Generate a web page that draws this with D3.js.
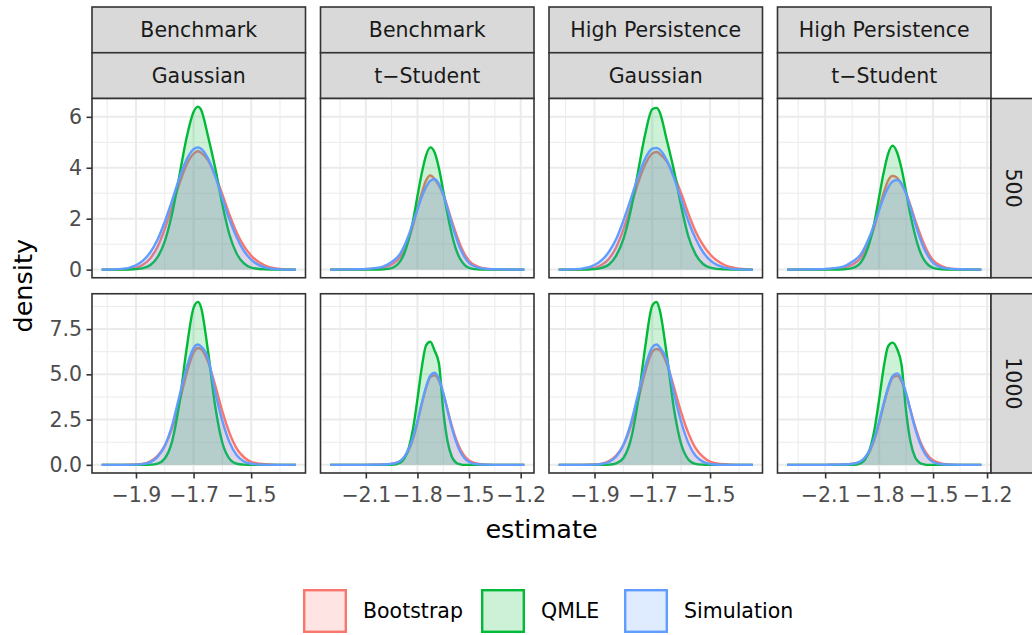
<html>
<head>
  <meta charset="utf-8">
  <script src="https://d3js.org/d3.v7.min.js"></script>
  <style>
    body { margin: 0; background: white; }
    text { font-family: "DejaVu Sans", sans-serif; }
  </style>
</head>
<body>
  <svg id="chart" width="1032" height="635"></svg>
  <script>
    // facet labels
    const models = ["Benchmark", "Benchmark", "High Persistence", "High Persistence"];
    const dists = ["Gaussian", "t\u2212Student", "Gaussian", "t\u2212Student"];
    const sizes = ["500", "1000"];
    const methods = ["Bootstrap", "QMLE", "Simulation"];

    // axis ticks
    const gaussTicks = [-1.9, -1.7, -1.5];
    const studTicks = [-2.1, -1.8, -1.5, -1.2];
    const ticks500 = [0, 2, 4, 6];
    const labels500 = ["0", "2", "4", "6"];
    const ticks1000 = [0, 2.5, 5, 7.5];
    const labels1000 = ["0.0", "2.5", "5.0", "7.5"];

    // evaluation grids (estimate values) per column
    const gridGaussA = [-2.019, -1.95, -1.90, -1.875, -1.85, -1.825, -1.80, -1.775, -1.75, -1.725, -1.70, -1.685, -1.675, -1.65, -1.625, -1.60, -1.575, -1.55, -1.525, -1.50, -1.45, -1.40, -1.345];
    const gridGaussB = [-2.024, -1.95, -1.90, -1.875, -1.85, -1.825, -1.80, -1.775, -1.75, -1.725, -1.70, -1.685, -1.675, -1.65, -1.625, -1.60, -1.575, -1.55, -1.525, -1.50, -1.45, -1.40, -1.352];
    const gridStudA = [-2.307, -2.2, -2.1, -2.05, -2.0, -1.95, -1.9, -1.875, -1.85, -1.825, -1.80, -1.775, -1.75, -1.725, -1.70, -1.675, -1.65, -1.625, -1.60, -1.575, -1.55, -1.525, -1.50, -1.45, -1.40, -1.30, -1.179];
    const gridStudB = [-2.311, -2.2, -2.1, -2.05, -2.0, -1.95, -1.9, -1.875, -1.85, -1.825, -1.80, -1.775, -1.75, -1.725, -1.70, -1.675, -1.65, -1.625, -1.60, -1.575, -1.55, -1.525, -1.50, -1.45, -1.40, -1.30, -1.232];

    // densities: Benchmark / Gaussian
    const bg500Boot = [0, 0.01, 0.08, 0.2, 0.45, 0.9, 1.6, 2.45, 3.35, 4.1, 4.55, 4.65, 4.6, 4.3, 3.7, 2.95, 2.15, 1.45, 0.92, 0.55, 0.15, 0.03, 0];
    const bg500Qmle = [0, 0, 0.02, 0.06, 0.18, 0.49, 1.11, 2.17, 3.64, 5.14, 6.19, 6.4, 6.3, 5.25, 4.0, 2.56, 1.36, 0.62, 0.24, 0.08, 0.01, 0, 0];
    const bg500Sim = [0, 0.03, 0.17, 0.36, 0.68, 1.18, 1.88, 2.7, 3.57, 4.3, 4.73, 4.8, 4.76, 4.37, 3.67, 2.79, 1.95, 1.26, 0.73, 0.39, 0.08, 0.01, 0];
    const bg1000Boot = [0, 0, 0.02, 0.06, 0.2, 0.5, 1.05, 2.0, 3.4, 5.0, 6.2, 6.45, 6.4, 5.7, 4.4, 2.95, 1.75, 0.9, 0.42, 0.17, 0.03, 0, 0];
    const bg1000Qmle = [0, 0, 0, 0, 0.01, 0.07, 0.35, 1.27, 3.33, 6.32, 8.67, 9.0, 8.75, 6.3, 3.25, 1.22, 0.33, 0.06, 0.01, 0, 0, 0, 0];
    const bg1000Sim = [0, 0, 0.01, 0.04, 0.15, 0.44, 1.06, 2.16, 3.75, 5.32, 6.45, 6.65, 6.56, 5.9, 4.03, 2.43, 1.24, 0.53, 0.19, 0.06, 0, 0, 0];

    // Benchmark / t-Student
    const bt500Boot = [0, 0.01, 0.02, 0.04, 0.08, 0.2, 0.5, 0.8, 1.2, 1.75, 2.4, 3.0, 3.5, 3.7, 3.55, 3.3, 2.95, 2.45, 1.9, 1.4, 0.95, 0.6, 0.35, 0.12, 0.04, 0.01, 0];
    const bt500Qmle = [0, 0, 0, 0, 0.01, 0.06, 0.33, 0.66, 1.21, 1.95, 2.88, 3.78, 4.49, 4.8, 4.6, 3.98, 3.09, 2.17, 1.38, 0.78, 0.4, 0.18, 0.07, 0.01, 0, 0, 0];
    const bt500Sim = [0, 0.01, 0.03, 0.06, 0.12, 0.3, 0.63, 0.96, 1.37, 1.86, 2.36, 2.85, 3.24, 3.49, 3.55, 3.36, 2.95, 2.39, 1.8, 1.26, 0.81, 0.48, 0.26, 0.08, 0.03, 0.01, 0];
    const bt1000Boot = [0, 0, 0, 0.01, 0.02, 0.06, 0.2, 0.42, 0.82, 1.45, 2.35, 3.35, 4.25, 4.85, 4.95, 4.65, 3.95, 3.05, 2.15, 1.4, 0.85, 0.48, 0.25, 0.06, 0.01, 0, 0];
    const bt1000Qmle = [0, 0, 0, 0, 0, 0, 0.12, 0.37, 0.96, 2.04, 3.63, 5.37, 6.6, 6.8, 6.3, 5.6, 3.0, 1.3, 0.45, 0.12, 0.03, 0, 0, 0, 0, 0, 0];
    const bt1000Sim = [0, 0, 0, 0.01, 0.02, 0.05, 0.22, 0.47, 0.9, 1.55, 2.42, 3.4, 4.3, 4.93, 5.09, 4.74, 3.98, 3.0, 2.05, 1.27, 0.7, 0.35, 0.16, 0.03, 0.01, 0, 0];

    // High Persistence / Gaussian
    const hg500Boot = [0, 0.01, 0.07, 0.19, 0.43, 0.88, 1.58, 2.45, 3.38, 4.12, 4.56, 4.62, 4.55, 4.25, 3.7, 3.0, 2.2, 1.5, 0.98, 0.6, 0.18, 0.04, 0];
    const hg500Qmle = [0, 0, 0.02, 0.07, 0.2, 0.55, 1.2, 2.3, 3.8, 5.3, 6.3, 6.35, 6.2, 5.1, 3.9, 2.5, 1.3, 0.6, 0.23, 0.08, 0.01, 0, 0];
    const hg500Sim = [0, 0.03, 0.18, 0.37, 0.7, 1.2, 1.92, 2.75, 3.62, 4.35, 4.75, 4.78, 4.72, 4.3, 3.6, 2.75, 1.9, 1.22, 0.7, 0.37, 0.08, 0.01, 0];
    const hg1000Boot = [0, 0, 0.02, 0.06, 0.21, 0.52, 1.1, 2.1, 3.5, 5.1, 6.25, 6.4, 6.35, 5.6, 4.3, 2.9, 1.75, 0.92, 0.45, 0.18, 0.03, 0, 0];
    const hg1000Qmle = [0, 0, 0, 0, 0.01, 0.08, 0.38, 1.35, 3.45, 6.45, 8.8, 9.0, 8.6, 6.1, 3.1, 1.15, 0.3, 0.05, 0.01, 0, 0, 0, 0];
    const hg1000Sim = [0, 0, 0.01, 0.05, 0.16, 0.46, 1.1, 2.25, 3.85, 5.4, 6.5, 6.65, 6.5, 5.8, 3.95, 2.38, 1.2, 0.5, 0.18, 0.05, 0, 0, 0];

    // High Persistence / t-Student
    const ht500Boot = [0, 0.01, 0.02, 0.04, 0.08, 0.19, 0.48, 0.78, 1.18, 1.72, 2.38, 3.0, 3.5, 3.68, 3.6, 3.35, 3.0, 2.5, 1.95, 1.45, 1.0, 0.63, 0.37, 0.13, 0.04, 0.01, 0];
    const ht500Qmle = [0, 0, 0, 0, 0.01, 0.06, 0.3, 0.62, 1.15, 1.9, 2.85, 3.8, 4.55, 4.87, 4.6, 3.95, 3.05, 2.12, 1.35, 0.76, 0.38, 0.17, 0.07, 0.01, 0, 0, 0];
    const ht500Sim = [0, 0.01, 0.03, 0.06, 0.12, 0.31, 0.62, 0.95, 1.35, 1.83, 2.33, 2.83, 3.22, 3.46, 3.52, 3.38, 2.98, 2.42, 1.83, 1.28, 0.83, 0.5, 0.27, 0.08, 0.03, 0.01, 0];
    const ht1000Boot = [0, 0, 0, 0.01, 0.02, 0.06, 0.19, 0.4, 0.8, 1.42, 2.3, 3.3, 4.2, 4.82, 4.92, 4.6, 3.9, 3.0, 2.12, 1.38, 0.85, 0.48, 0.25, 0.06, 0.01, 0, 0];
    const ht1000Qmle = [0, 0, 0, 0, 0, 0, 0.1, 0.35, 0.92, 2.0, 3.6, 5.35, 6.55, 6.75, 6.4, 5.5, 2.95, 1.25, 0.42, 0.12, 0.03, 0, 0, 0, 0, 0, 0];
    const ht1000Sim = [0, 0, 0, 0.01, 0.02, 0.05, 0.21, 0.46, 0.88, 1.52, 2.4, 3.38, 4.28, 4.9, 5.05, 4.72, 3.96, 2.98, 2.03, 1.26, 0.7, 0.35, 0.16, 0.03, 0.01, 0, 0];

    const colors = ["#F8766D", "#00BA38", "#619CFF"];

    // panel table: [col][row] -> series
    const colGrids = [gridGaussA, gridStudA, gridGaussB, gridStudB];
    const colTicks = [gaussTicks, studTicks, gaussTicks, studTicks];
    const rowTicks = [ticks500, ticks1000];
    const rowLabels = [labels500, labels1000];
    const panelSeries = [
      [[bg500Boot, bg500Qmle, bg500Sim], [bg1000Boot, bg1000Qmle, bg1000Sim]],
      [[bt500Boot, bt500Qmle, bt500Sim], [bt1000Boot, bt1000Qmle, bt1000Sim]],
      [[hg500Boot, hg500Qmle, hg500Sim], [hg1000Boot, hg1000Qmle, hg1000Sim]],
      [[ht500Boot, ht500Qmle, ht500Sim], [ht1000Boot, ht1000Qmle, ht1000Sim]]
    ];

    const svg = d3.select("svg#chart");
    const colX = [92, 320.5, 549, 777.5];
    const rowY = [98.5, 293.75];
    const panelW = 213.5, panelH = 179.25;
    const stripH = 45.75;
    const gridCol = "#EBEBEB", darkCol = "#333333";
    const smallFont = 20.5, titleFont = 25.5;

    svg.append("rect").attr("width", 1032).attr("height", 635).attr("fill", "white");

    // ggplot-like 5% expansion
    const expand = ext => {
      const r = ext[1] - ext[0];
      return [ext[0] - 0.05 * r, ext[1] + 0.05 * r];
    };
    const xScales = colGrids.map(g => d3.scaleLinear().domain(expand(d3.extent(g))).range([0, panelW]));
    const yScales = [0, 1].map(r => {
      const m = d3.max(panelSeries, col => d3.max(col[r], s => d3.max(s)));
      return d3.scaleLinear().domain(expand([0, m])).range([panelH, 0]);
    });

    const minorsOf = (ticks, dom) => {
      const step = ticks[1] - ticks[0];
      const all = ticks.map(t => t - step / 2).concat([ticks[ticks.length - 1] + step / 2]);
      return all.filter(v => v >= dom[0] && v <= dom[1]);
    };

    for (let c = 0; c < 4; c++) {
      const x = xScales[c];
      // top strips
      [models[c], dists[c]].forEach((lab, k) => {
        const sy = rowY[0] - stripH * (2 - k);
        svg.append("rect").attr("x", colX[c]).attr("y", sy).attr("width", panelW).attr("height", stripH)
          .attr("fill", "#D9D9D9").attr("stroke", darkCol).attr("stroke-width", 1.6);
        svg.append("text").attr("x", colX[c] + panelW / 2).attr("y", sy + stripH / 2)
          .attr("text-anchor", "middle").attr("dominant-baseline", "central")
          .attr("font-size", smallFont).attr("fill", "#1A1A1A").text(lab);
      });

      for (let r = 0; r < 2; r++) {
        const y = yScales[r];
        const g = svg.append("g").attr("transform", `translate(${colX[c]},${rowY[r]})`);
        g.append("rect").attr("width", panelW).attr("height", panelH).attr("fill", "white");

        const xd = x.domain(), yd = y.domain();
        minorsOf(colTicks[c], xd).forEach(v => {
          g.append("line").attr("x1", x(v)).attr("x2", x(v)).attr("y1", 0).attr("y2", panelH)
            .attr("stroke", gridCol).attr("stroke-width", 1);
        });
        minorsOf(rowTicks[r], yd).forEach(v => {
          g.append("line").attr("x1", 0).attr("x2", panelW).attr("y1", y(v)).attr("y2", y(v))
            .attr("stroke", gridCol).attr("stroke-width", 1);
        });
        colTicks[c].forEach(v => {
          g.append("line").attr("x1", x(v)).attr("x2", x(v)).attr("y1", 0).attr("y2", panelH)
            .attr("stroke", gridCol).attr("stroke-width", 2);
        });
        rowTicks[r].forEach(v => {
          g.append("line").attr("x1", 0).attr("x2", panelW).attr("y1", y(v)).attr("y2", y(v))
            .attr("stroke", gridCol).attr("stroke-width", 2);
        });

        const grid = colGrids[c];
        const areaGen = d3.area().x((d, i) => x(grid[i])).y0(y(0)).y1(d => y(d)).curve(d3.curveMonotoneX);
        const lineGen = d3.line().x((d, i) => x(grid[i])).y(d => y(d)).curve(d3.curveMonotoneX);

        panelSeries[c][r].forEach((s, i) => {
          g.append("path").datum(s).attr("d", areaGen)
            .attr("fill", colors[i]).attr("fill-opacity", 0.2);
          g.append("path").datum(s).attr("d", lineGen)
            .attr("fill", "none").attr("stroke", colors[i]).attr("stroke-width", 2.4)
            .attr("stroke-linejoin", "round");
        });

        g.append("rect").attr("width", panelW).attr("height", panelH)
          .attr("fill", "none").attr("stroke", darkCol).attr("stroke-width", 1.6);

        // right strips
        if (c === 3) {
          svg.append("rect").attr("x", colX[c] + panelW).attr("y", rowY[r]).attr("width", 45).attr("height", panelH)
            .attr("fill", "#D9D9D9").attr("stroke", darkCol).attr("stroke-width", 1.6);
          svg.append("text")
            .attr("transform", `translate(${colX[c] + panelW + 22},${rowY[r] + panelH / 2}) rotate(90)`)
            .attr("text-anchor", "middle").attr("dominant-baseline", "central")
            .attr("font-size", smallFont).attr("fill", "#1A1A1A").text(sizes[r]);
        }

        // y axis on first column
        if (c === 0) {
          const ax = svg.append("g").attr("transform", `translate(${colX[0]},${rowY[r]})`)
            .call(d3.axisLeft(y).tickValues(rowTicks[r]).tickFormat((d, i) => rowLabels[r][i])
              .tickSize(5.5).tickPadding(4.5));
          ax.select(".domain").remove();
          ax.selectAll(".tick line").attr("stroke", darkCol).attr("stroke-width", 1.6);
          ax.selectAll(".tick text").attr("fill", "#4D4D4D").attr("font-size", smallFont)
            .attr("font-family", "DejaVu Sans, sans-serif");
        }
      }

      // x axis under bottom row
      const axb = svg.append("g").attr("transform", `translate(${colX[c]},${rowY[1] + panelH})`)
        .call(d3.axisBottom(x).tickValues(colTicks[c]).tickFormat(d3.format(".1f"))
          .tickSize(5.5).tickPadding(8.5));
      axb.select(".domain").remove();
      axb.selectAll(".tick line").attr("stroke", darkCol).attr("stroke-width", 1.6);
      axb.selectAll(".tick text").attr("fill", "#4D4D4D").attr("font-size", smallFont)
        .attr("font-family", "DejaVu Sans, sans-serif");
    }

    // axis titles
    svg.append("text").attr("x", (colX[0] + colX[3] + panelW) / 2).attr("y", 538)
      .attr("text-anchor", "middle").attr("font-size", titleFont).attr("fill", "black").text("estimate");
    svg.append("text").attr("transform", `translate(32,${(rowY[0] + rowY[1] + panelH) / 2}) rotate(-90)`)
      .attr("text-anchor", "middle").attr("font-size", titleFont).attr("fill", "black").text("density");

    // legend
    const keyX = [303, 481, 624];
    const legend = svg.append("g").attr("transform", "translate(0,589)");
    methods.forEach((m, i) => {
      legend.append("rect").attr("x", keyX[i] + 1.2).attr("y", 1.2).attr("width", 41.6).attr("height", 41.6)
        .attr("fill", colors[i]).attr("fill-opacity", 0.2)
        .attr("stroke", colors[i]).attr("stroke-width", 2.4);
      legend.append("text").attr("x", keyX[i] + 60).attr("y", 22).attr("dominant-baseline", "central")
        .attr("font-size", smallFont).attr("fill", "black").text(m);
    });
  </script>
</body>
</html>
